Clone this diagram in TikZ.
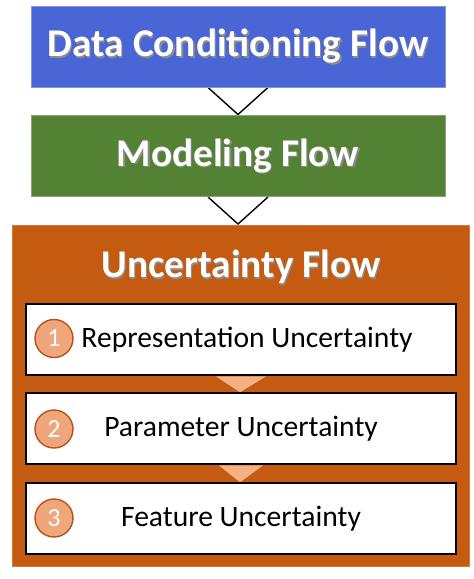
\documentclass[tikz,border=0pt]{standalone}
\usepackage{fontspec}
\setmainfont{Carlito}
\usetikzlibrary{calc}
\definecolor{cblue}{HTML}{4A66D6}
\definecolor{cgreen}{HTML}{548235}
\definecolor{corange}{HTML}{C55A11}
\definecolor{cpeach}{HTML}{F4B183}
\definecolor{cpeachc}{HTML}{F0A67C}
\definecolor{cdark}{HTML}{B5531A}
\tikzset{
  head/.style={draw=#1!70!white, line width=1pt, fill=#1, minimum width=414pt, minimum height=81pt, inner sep=0pt},
  headtxt/.style={text=white, font=\bfseries\fontsize{39.3}{41}\selectfont, inner sep=0pt},
  shadowtxt/.style={text=black!45, font=\bfseries\fontsize{39.3}{41}\selectfont, inner sep=0pt},
  stepbox/.style={draw=black, line width=1.4pt, fill=white, minimum width=430pt, minimum height=71pt, inner sep=0pt},
  steptxt/.style={font=\fontsize{29.6}{31}\selectfont, inner sep=0pt},
  numcirc/.style={circle, draw=cdark, line width=1.4pt, fill=cpeachc, minimum size=38pt, inner sep=0pt, text=white, font=\fontsize{26}{28}\selectfont},
  bigtri/.style={draw=black, line width=1.4pt, fill=white, line join=miter}
}
\begin{document}
\begin{tikzpicture}[x=1pt,y=-1pt]
\useasboundingbox (0,0) rectangle (474,579);
\node[head=cblue] (data) at (238,46.5) {};
\node[head=cgreen] (model) at (238,156) {};
\node[draw=corange!80!white, line width=1pt, fill=corange, minimum width=457pt, minimum height=341pt, inner sep=0pt] (unc) at (240.5,395.5) {};
% connector triangles
\draw[bigtri] ($(data.south)+(-30,0)$) -- ($(model.north)+(0,-0.5)$) -- ($(data.south)+(30,0)$);
\draw[bigtri] ($(model.south)+(-30,0)$) -- ($(unc.north)+(-2.5,-0.5)$) -- ($(model.south)+(30,0)$);
% redraw box fills over triangle tops
\node[head=cblue] at (data) {};
\node[head=cgreen] at (model) {};
% header texts
\node[shadowtxt] at ($(data)+(1.2,1.4)$) {Data Conditioning Flow};
\node[headtxt] (datat) at (data) {Data Conditioning Flow};
\node[shadowtxt] at ($(model)+(1.2,1.4)$) {Modeling Flow};
\node[headtxt] (modelt) at (model) {Modeling Flow};
\node[shadowtxt] at (242.2,268.4) {Uncertainty Flow};
\node[headtxt] (unct) at (241,267) {Uncertainty Flow};
% step boxes
\node[stepbox] (s1) at (241,339.5) {};
\node[stepbox] (s2) at (241,428.5) {};
\node[stepbox] (s3) at (241,518.5) {};
\fill[cpeach] ($(s1.south)+(-25,0.7)$) -- ($(s2.north)+(-1,0)$) -- ($(s1.south)+(25,0.7)$) -- cycle;
\fill[cpeach] ($(s2.south)+(-22,0.7)$) -- ($(s3.north)+(-1,0)$) -- ($(s2.south)+(22,0.7)$) -- cycle;
\draw[black, line width=1.4pt] (s2.north west) -- (s2.north east);
\draw[black, line width=1.4pt] (s3.north west) -- (s3.north east);
\node[steptxt] (t1) at (247,340) {Representation Uncertainty};
\node[steptxt] (t2) at (241,429) {Parameter Uncertainty};
\node[steptxt] (t3) at (241,519) {Feature Uncertainty};
\node[numcirc] (n1) at (54,338.5) {1};
\node[numcirc] (n2) at (54,429) {2};
\node[numcirc] (n3) at (54,518) {3};
\end{tikzpicture}
\end{document}
